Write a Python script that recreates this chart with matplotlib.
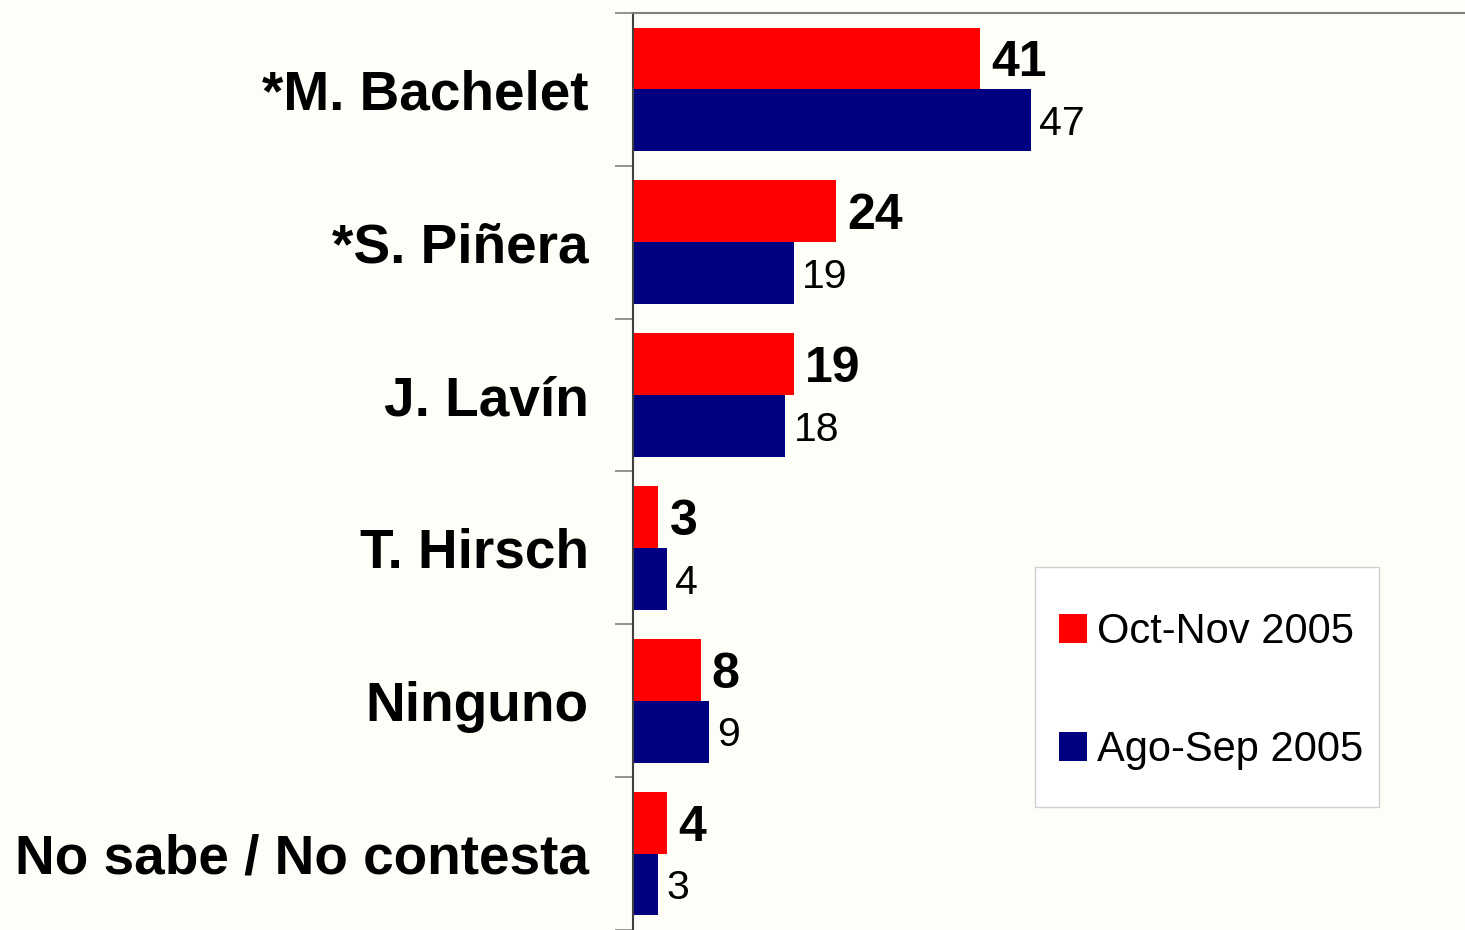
import matplotlib
matplotlib.use("Agg")
import matplotlib.pyplot as plt
import numpy as np
from matplotlib.patches import Patch, Rectangle

plt.rcParams['font.family'] = ['Liberation Sans', 'DejaVu Sans']

categories = ["*M. Bachelet", "*S. Piñera", "J. Lavín", "T. Hirsch", "Ninguno", "No sabe / No contesta"]
series_names = ["Oct-Nov 2005", "Ago-Sep 2005"]
oct_nov = [41, 24, 19, 3, 8, 4]
ago_sep = [47, 19, 18, 4, 9, 3]
colors = ["#FF0000", "#000080"]
bg = "#FEFEF8"

W, H = 1465, 930
fig = plt.figure(figsize=(W/100, H/100), dpi=100, facecolor=bg)
ax = fig.add_axes([633/W, 0.0, 1 - 633/W, 1 - 13/H])
ax.set_facecolor(bg)

n = len(categories)
idx = np.arange(n)
h = 0.405
ax.barh(idx + 0.5 - h/2, oct_nov, height=h, color=colors[0], label=series_names[0])
ax.barh(idx + 0.5 + h/2, ago_sep, height=h, color=colors[1], label=series_names[1])

fs_red, fs_blue = 36, 29.5
for i, (a, b) in enumerate(zip(oct_nov, ago_sep)):
    ax.annotate(str(a), (a, i + 0.5 - h/2), xytext=(8, -0.36*fs_red), textcoords='offset points',
                ha='left', va='baseline', fontsize=fs_red, fontweight='bold', color='black')
    ax.annotate(str(b), (b, i + 0.5 + h/2), xytext=(6, -0.36*fs_blue), textcoords='offset points',
                ha='left', va='baseline', fontsize=fs_blue, color='black')

ax.set_xlim(0, 832/8.47)
ax.set_ylim(n, 0)

ax.set_yticks(np.arange(n + 1))
ax.set_yticklabels([])
ax.set_yticks(idx + 0.5, minor=True)
ax.set_yticklabels(categories, minor=True, fontsize=39.6, fontweight='bold')
ax.tick_params(axis='y', which='major', length=13, width=1.2, color='#808080', direction='out')
ax.tick_params(axis='y', which='minor', length=0, pad=32)
ax.set_xticks([])

for s in ['right', 'bottom']:
    ax.spines[s].set_visible(False)
ax.spines['left'].set_color('#404040')
ax.spines['left'].set_linewidth(1.5)
ax.spines['top'].set_color('#808080')
ax.spines['top'].set_linewidth(1.5)

# legend frame
frame = Rectangle((1035/W, 1 - 807/H), (1379-1035)/W, (807-567)/H, transform=fig.transFigure,
                  facecolor='white', edgecolor='#D0D0D0', linewidth=1.0, zorder=5)
fig.add_artist(frame)

F = 30 * 100/72
handles = [Patch(facecolor=colors[0]), Patch(facecolor=colors[1])]
leg = fig.legend(handles, series_names, loc='upper left',
                 bbox_to_anchor=(1059/W, 1 - 612/H), frameon=False,
                 fontsize=30, handlelength=28/F, handleheight=28/F, labelspacing=1.87,
                 borderpad=0, handletextpad=10/F, borderaxespad=0)
leg.set_zorder(6)

fig.savefig("out.png", dpi=100, facecolor=bg)
